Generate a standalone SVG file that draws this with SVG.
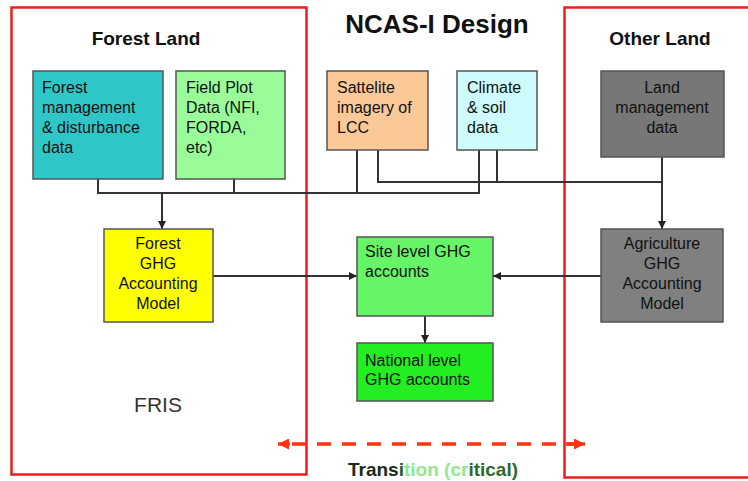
<svg xmlns="http://www.w3.org/2000/svg" width="748" height="481" viewBox="0 0 748 481">
<defs>
<style>
.t{font-family:"Liberation Sans",Arial,sans-serif;font-size:16px;fill:#111}
.h{font-family:"Liberation Sans",Arial,sans-serif;font-weight:bold;fill:#111}
.box{stroke:#555;stroke-width:1.5}
.region{fill:none;stroke:#ee1c1c;stroke-width:2.5}
.ln{fill:none;stroke:#333;stroke-width:2}
.c{text-anchor:middle}
</style>
<marker id="ah" viewBox="0 0 10 10" refX="10" refY="5" markerWidth="8" markerHeight="8" markerUnits="userSpaceOnUse" orient="auto">
<path d="M0,0 L10,5 L0,10 z" fill="#222"/>
</marker>
<marker id="rh" viewBox="0 0 10 10" refX="10" refY="5" markerWidth="13" markerHeight="11" markerUnits="userSpaceOnUse" orient="auto">
<path d="M0,0 L10,5 L0,10 z" fill="#ff3311"/>
</marker>
</defs>
<rect width="748" height="481" fill="#fff"/>

<g id="regions">
<rect class="region" x="11.5" y="7.5" width="295" height="467"/>
<rect class="region" x="564.5" y="7.5" width="200" height="470"/>
<text class="h c" x="437" y="33" font-size="26">NCAS-I Design</text>
<text class="h c" x="146" y="45" font-size="19">Forest Land</text>
<text class="h c" x="660" y="45" font-size="19">Other Land</text>
<text class="c" x="158" y="412" font-family="Liberation Sans,Arial,sans-serif" font-size="21" fill="#333">FRIS</text>
</g>

<g id="connectors">
<path class="ln" d="M98,179 V193 H479 V150 M234,179 V193 M357,150 V193"/>
<path class="ln" d="M378,150 V182 H662 M497,150 V182 M662,157 V229" marker-end="url(#ah)"/>
<path class="ln" d="M162,193 V229" marker-end="url(#ah)"/>
<path class="ln" d="M213,276 H357" marker-end="url(#ah)"/>
<path class="ln" d="M601,276 H493" marker-end="url(#ah)"/>
<path class="ln" d="M425,316 V343" marker-end="url(#ah)"/>
<path d="M292,444 H573" fill="none" stroke="#ff3311" stroke-width="3.5" stroke-dasharray="14 11"/>
<path d="M290,444 H278" fill="none" stroke="#ff3311" stroke-width="3.5" marker-end="url(#rh)"/>
<path d="M566,444 H585" fill="none" stroke="#ff3311" stroke-width="3.5" marker-end="url(#rh)"/>
</g>

<g id="forest-mgmt">
<rect class="box" x="33" y="71" width="130" height="108" fill="#2fc6c8"/>
<text class="t" x="42" y="93">Forest</text>
<text class="t" x="42" y="113">management</text>
<text class="t" x="42" y="133">&amp; disturbance</text>
<text class="t" x="42" y="153">data</text>
</g>

<g id="field-plot">
<rect class="box" x="176" y="71" width="109" height="108" fill="#99fc99"/>
<text class="t" x="186" y="93">Field Plot</text>
<text class="t" x="186" y="113">Data (NFI,</text>
<text class="t" x="186" y="133">FORDA,</text>
<text class="t" x="186" y="153">etc)</text>
</g>

<g id="satellite">
<rect class="box" x="327" y="71" width="101" height="79" fill="#fbc898"/>
<text class="t" x="337" y="93">Sattelite</text>
<text class="t" x="337" y="113">imagery of</text>
<text class="t" x="337" y="133">LCC</text>
</g>

<g id="climate">
<rect class="box" x="457" y="71" width="80" height="79" fill="#ccfcfc"/>
<text class="t" x="467" y="93">Climate</text>
<text class="t" x="467" y="113">&amp; soil</text>
<text class="t" x="467" y="133">data</text>
</g>

<g id="land-mgmt">
<rect class="box" x="601" y="71" width="123" height="86" fill="#777"/>
<text class="t c" x="662" y="93">Land</text>
<text class="t c" x="662" y="113">management</text>
<text class="t c" x="662" y="133">data</text>
</g>

<g id="forest-ghg">
<rect class="box" x="104" y="229" width="109" height="93" fill="#ffff00"/>
<text class="t c" x="158" y="249">Forest</text>
<text class="t c" x="158" y="269">GHG</text>
<text class="t c" x="158" y="289">Accounting</text>
<text class="t c" x="158" y="309">Model</text>
</g>

<g id="site-level">
<rect class="box" x="357" y="237" width="136" height="79" fill="#66f566"/>
<text class="t" x="365" y="257">Site level GHG</text>
<text class="t" x="365" y="277">accounts</text>
</g>

<g id="agri-ghg">
<rect class="box" x="601" y="229" width="122" height="93" fill="#808080"/>
<text class="t c" x="662" y="249">Agriculture</text>
<text class="t c" x="662" y="269">GHG</text>
<text class="t c" x="662" y="289">Accounting</text>
<text class="t c" x="662" y="309">Model</text>
</g>

<g id="national-level">
<rect class="box" x="357" y="343" width="136" height="58" fill="#22ee22"/>
<text class="t" x="365" y="366">National level</text>
<text class="t" x="365" y="385">GHG accounts</text>
</g>

<g id="transition">
<text class="h c" x="433" y="476" font-size="19"><tspan fill="#1a2a1a">Trans</tspan><tspan fill="#2a5a2a">i</tspan><tspan fill="#8ee88e">tion (cr</tspan><tspan fill="#2a6a2a">itical)</tspan></text>
</g>
</svg>
